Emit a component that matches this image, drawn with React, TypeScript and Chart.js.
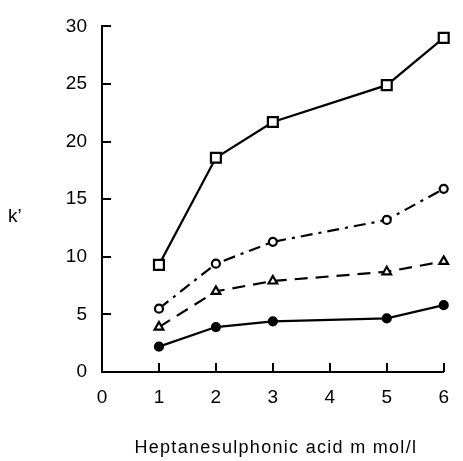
import React, { useEffect, useRef } from "react";
import { Chart, registerables } from "chart.js";

Chart.register(...registerables);

// ---- data ----
const xValues = [1, 2, 3, 5, 6];
const squareSeries = [9.3, 18.6, 21.7, 24.9, 29.0];
const openCircleSeries = [5.5, 9.4, 11.3, 13.2, 15.9];
const triangleSeries = [3.9, 7.0, 7.9, 8.7, 9.6];
const filledCircleSeries = [2.2, 3.9, 4.4, 4.65, 5.8];
const xTickValues = [0, 1, 2, 3, 4, 5, 6];
const yTickValues = [0, 5, 10, 15, 20, 25, 30];
const xTitle = "Heptanesulphonic acid m mol/l";
const yTitle = "k’";

const FONT = "'Liberation Sans', Arial, Helvetica, sans-serif";
const INK = "#000000";

const toPoints = (ys: number[]) => xValues.map((x, i) => ({ x, y: ys[i] }));

const decorPlugin = {
  id: "decor",
  afterDraw(chart: any) {
    const { ctx, chartArea } = chart;
    const xs = chart.scales.x;
    const ys = chart.scales.y;
    ctx.save();
    ctx.strokeStyle = INK;
    ctx.lineWidth = 2;
    // inward ticks on y axis
    yTickValues.forEach((v) => {
      if (v === 0) return;
      const y = Math.round(ys.getPixelForValue(v));
      ctx.beginPath();
      ctx.moveTo(chartArea.left, y);
      ctx.lineTo(chartArea.left + 9, y);
      ctx.stroke();
    });
    // inward ticks on x axis
    xTickValues.forEach((v) => {
      if (v === 0) return;
      const x = Math.round(xs.getPixelForValue(v));
      ctx.beginPath();
      ctx.moveTo(x, chartArea.bottom);
      ctx.lineTo(x, chartArea.bottom - 9);
      ctx.stroke();
    });
    // axis titles
    ctx.fillStyle = INK;
    ctx.font = `18px ${FONT}`;
    try {
      (ctx as any).letterSpacing = "1.3px";
    } catch (e) {}
    ctx.textAlign = "center";
    ctx.textBaseline = "alphabetic";
    ctx.fillText(xTitle, (chartArea.left + chartArea.right) / 2 + 3, chartArea.bottom + 81);
    try {
      (ctx as any).letterSpacing = "0px";
    } catch (e) {}
    ctx.font = `19px ${FONT}`;
    ctx.textAlign = "left";
    ctx.fillText(yTitle, 8, chartArea.top + 196);
    ctx.restore();
  },
};

export default function App() {
  const canvasRef = useRef<HTMLCanvasElement | null>(null);

  useEffect(() => {
    const canvas = canvasRef.current;
    if (!canvas) return;
    const common = {
      borderColor: INK,
      borderWidth: 2.2,
      pointBorderColor: INK,
      pointBorderWidth: 2.2,
      fill: false,
      tension: 0,
      clip: false as any,
    };
    const chart = new Chart(canvas, {
      type: "line",
      data: {
        datasets: [
          {
            ...common,
            label: "squares",
            data: toPoints(squareSeries),
            pointStyle: "rect",
            pointRadius: 7,
            pointBackgroundColor: "#ffffff",
          },
          {
            ...common,
            label: "open circles",
            data: toPoints(openCircleSeries),
            pointStyle: "circle",
            pointRadius: 4,
            pointBackgroundColor: "#ffffff",
            borderDash: [12, 6, 3, 6],
          },
          {
            ...common,
            label: "triangles",
            data: toPoints(triangleSeries),
            pointStyle: "triangle",
            pointRadius: 5,
            pointBackgroundColor: "#ffffff",
            borderDash: [13, 8],
          },
          {
            ...common,
            label: "filled circles",
            data: toPoints(filledCircleSeries),
            pointStyle: "circle",
            pointRadius: 4,
            pointBackgroundColor: INK,
          },
        ],
      },
      options: {
        responsive: false,
        animation: false,
        layout: { padding: { top: 22, right: 12, left: 0, bottom: 0 } },
        plugins: { legend: { display: false }, tooltip: { enabled: false } },
        scales: {
          x: {
            type: "linear",
            min: 0,
            max: 6,
            afterBuildTicks: (s: any) => {
              s.ticks = xTickValues.map((v) => ({ value: v }));
            },
            ticks: { padding: 14, color: INK, font: { family: FONT, size: 19 } },
            grid: { display: false, drawTicks: false },
            border: { display: true, color: INK, width: 2 },
            afterFit: (s: any) => {
              s.height = 89;
            },
          },
          y: {
            type: "linear",
            min: 0,
            max: 30,
            afterBuildTicks: (s: any) => {
              s.ticks = yTickValues.map((v) => ({ value: v }));
            },
            ticks: { padding: 15, color: INK, font: { family: FONT, size: 19 } },
            grid: { display: false, drawTicks: false },
            border: { display: true, color: INK, width: 2 },
            afterFit: (s: any) => {
              s.width = 102;
            },
          },
        },
      },
      plugins: [decorPlugin],
    });
    return () => chart.destroy();
  }, []);

  return (
    <div style={{ position: "absolute", left: 0, top: 0, width: 463, height: 461, background: "#fff" }}>
      <canvas ref={canvasRef} width={463} height={461} style={{ display: "block" }} />
    </div>
  );
}
